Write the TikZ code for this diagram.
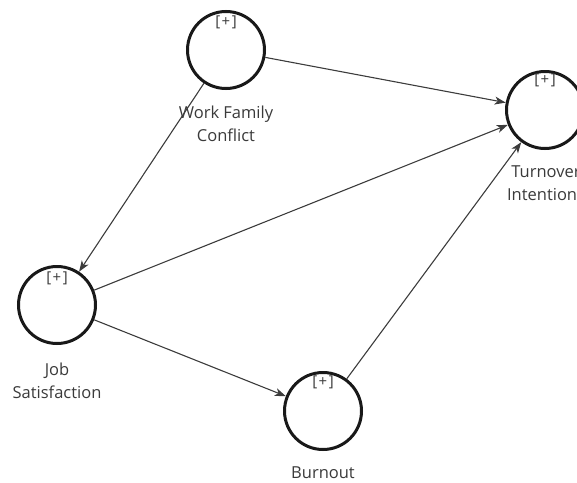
\documentclass[tikz,border=0pt]{standalone}
\usepackage{fontspec}
\setmainfont{Open Sans}
\usepackage{tikz}
\usetikzlibrary{arrows.meta,positioning}
\definecolor{textgray}{HTML}{3A3A3A}
\definecolor{linegray}{HTML}{3C3C3C}
\tikzset{construct/.style={circle,draw=black!90,line width=3pt,minimum size=77pt,inner sep=0pt},
		post/.style={-{Stealth[length=11pt,width=8pt,inset=3pt]},draw=linegray,line width=1.1pt}}

\begin{document}
\begin{tikzpicture}[x=1pt,y=-1pt,node distance=16pt,
		caption/.style={align=center,text=textgray,font=\fontsize{16.5}{23}\selectfont,inner sep=0pt},
		plus/.style={text=textgray,font=\fontsize{15}{15}\selectfont,inner sep=0pt}]
		\useasboundingbox (0,0) rectangle (577,482);
		\node[construct] (work-family-conflict) at (226,50) {};
		\node[construct] (turnover-intentions) at (545,110) {};
		\node[construct] (job-satisfaction) at (57,305) {};
		\node[construct] (burnout) at (323,411) {};
		
		\node[plus] (work-family-conflict-plus) [below=6pt of work-family-conflict.north] {[\kern1.5pt+\kern1.5pt]};
		\node[plus] (turnover-intentions-plus) [below=4pt of turnover-intentions.north] {[\kern1.5pt+\kern1.5pt]};
		\node[plus] (job-satisfaction-plus) [below=7pt of job-satisfaction.north] {[\kern1.5pt+\kern1.5pt]};
		\node[plus] (burnout-plus) [below=5pt of burnout.north] {[\kern1.5pt+\kern1.5pt]};
		
		\node[caption] (work-family-conflict-text) [below=of work-family-conflict] {Work Family\\Conflict};
		\node[caption] (turnover-intentions-text) [below=of turnover-intentions,xshift=1pt] {Turnover\\Intentions};
		\node[caption] (job-satisfaction-text) [below=18pt of job-satisfaction] {Job\\Satisfaction};
		\node[caption] (burnout-text) [below=of burnout] {Burnout};
		
		\draw[post] (work-family-conflict) -- (turnover-intentions);
		\draw[post] (work-family-conflict) -- (job-satisfaction);
		\draw[post] (job-satisfaction) -- (turnover-intentions);
		\draw[post] (job-satisfaction) -- (burnout);
		\draw[post] (burnout) -- (turnover-intentions);
	\end{tikzpicture}
\end{document}
